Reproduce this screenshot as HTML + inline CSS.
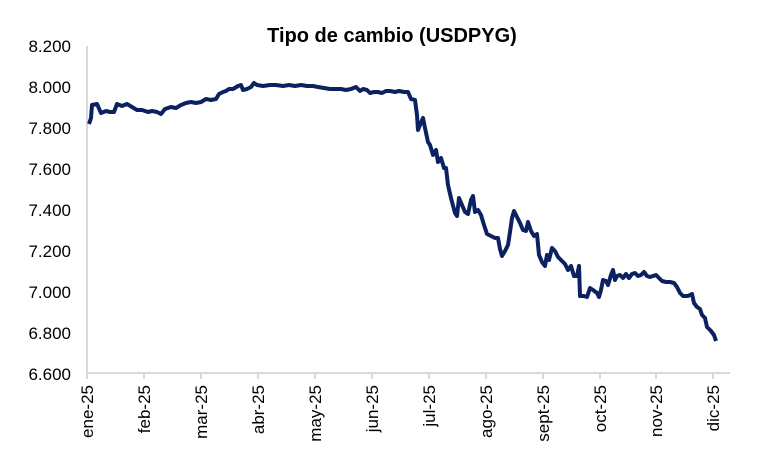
<!DOCTYPE html>
<html><head><meta charset="utf-8"><style>body{margin:0;background:#fff}svg{display:block}text{font-family:"Liberation Sans",Arial,sans-serif}</style></head><body>
<svg width="784" height="459" viewBox="0 0 784 459">
<text x="392" y="42" text-anchor="middle" font-size="20" font-weight="bold" fill="#000">Tipo de cambio (USDPYG)</text>
<g font-size="17" fill="#000" text-anchor="end">
<text x="71" y="52">8.200</text><text x="71" y="93">8.000</text><text x="71" y="134">7.800</text><text x="71" y="175">7.600</text><text x="71" y="216">7.400</text><text x="71" y="257">7.200</text><text x="71" y="298">7.000</text><text x="71" y="339">6.800</text><text x="71" y="380">6.600</text>
</g>
<g stroke="#d9d9d9" stroke-width="2" fill="none">
<path d="M87 46V373H730"/>
<path d="M87 373v6M144 373v6M201 373v6M258 373v6M315 373v6M372 373v6M429 373v6M486 373v6M543 373v6M600 373v6M656 373v6M713 373v6"/>
</g>
<g font-size="17" fill="#000" text-anchor="end">
<text transform="translate(93,385) rotate(-90)">ene-25</text>
<text transform="translate(150,385) rotate(-90)">feb-25</text>
<text transform="translate(207,385) rotate(-90)">mar-25</text>
<text transform="translate(264,385) rotate(-90)">abr-25</text>
<text transform="translate(321,385) rotate(-90)">may-25</text>
<text transform="translate(378,385) rotate(-90)">jun-25</text>
<text transform="translate(435,385) rotate(-90)">jul-25</text>
<text transform="translate(492,385) rotate(-90)">ago-25</text>
<text transform="translate(549,385) rotate(-90)">sept-25</text>
<text transform="translate(606,385) rotate(-90)">oct-25</text>
<text transform="translate(662,385) rotate(-90)">nov-25</text>
<text transform="translate(719,385) rotate(-90)">dic-25</text>
</g>
<polyline fill="none" stroke="#0b2160" stroke-width="4" stroke-linejoin="round" points="89,124 91,118 92,105 97,104 101,113 106,111 110,112 114,112 117,104 122,106 127,104 132,107 137,110 142,110 148,112 152,111 157,112 161,114 165,109 171,107 176,108 181,105 186,103 191,102 196,103 201,102 206,99 211,100 216,99 219,94 223,92 226,91 229,89 233,89 238,86 241,85 243,90 247,89 251,87 254,83 257,85 263,86 270,85 276,85 283,86 289,85 295,86 301,85 307,86 313,86 318,87 324,88 330,89 335,89 341,89 346,90 351,89 356,87 360,91 363,89 367,90 370,93 374,92 378,92 382,93 386,91 390,91 395,92 399,91 404,92 408,92 411,99 415,100 417,115 418,130 420,125 423,118 425,128 428,142 430,145 433,155 436,150 438,162 441,158 444,168 446,168 448,185 451,198 455,213 457,216 459,198 462,205 465,212 468,214 471,200 473,196 475,212 478,210 481,215 484,225 487,234 491,236 495,238 498,238 500,249 502,256 505,251 508,245 510,232 512,218 514,211 517,217 520,223 523,230 526,231 528,222 531,231 534,236 537,234 539,255 542,262 545,266 547,255 549,260 552,248 555,251 558,257 561,260 565,264 568,270 571,266 574,276 577,276 579,266 580,296 584,296 587,297 590,288 593,290 597,293 599,297 601,290 603,280 606,281 608,285 611,275 613,270 615,280 617,276 620,275 623,278 626,274 629,278 632,274 635,273 638,276 641,275 644,272 647,276 650,277 653,276 656,275 659,278 662,281 666,282 670,282 674,283 677,287 680,293 683,296 688,296 692,294 694,303 697,307 700,309 702,315 705,318 707,327 711,331 714,335 716,341"/>
</svg>
</body></html>
